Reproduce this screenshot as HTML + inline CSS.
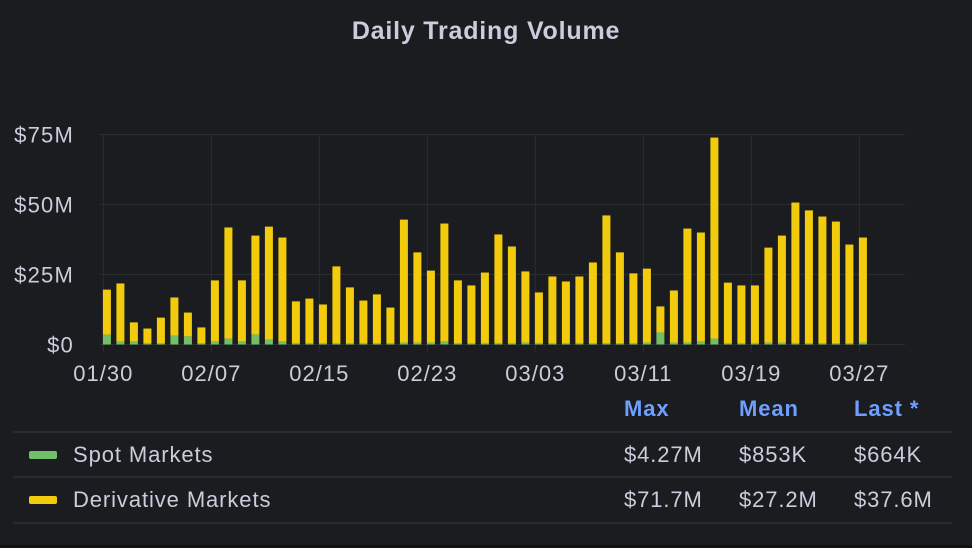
<!DOCTYPE html>
<html><head><meta charset="utf-8"><style>
body{margin:0;background:#111217;}
#panel{position:absolute;left:0;top:0;width:972px;height:545px;background:#1b1c20;font-family:"Liberation Sans",sans-serif;color:#ccccdc;}
.t{position:absolute;white-space:nowrap;font-size:22px;letter-spacing:0.9px;}
</style></head><body>
<div id="panel">
<div class="t" style="left:0;width:972px;text-align:center;top:17px;font-size:25px;letter-spacing:0.8px;font-weight:bold;">Daily Trading Volume</div>
<svg id="chart" width="972" height="400" style="position:absolute;left:0;top:0"></svg>
<div>
<div class="t" style="left:624px;top:396px;font-weight:bold;color:#6e9fff">Max</div>
<div class="t" style="left:739px;top:396px;font-weight:bold;color:#6e9fff">Mean</div>
<div class="t" style="left:854px;top:396px;font-weight:bold;color:#6e9fff">Last *</div>
<div style="position:absolute;left:13px;width:939px;top:431px;height:2px;background:#2a2b30"></div>
<div style="position:absolute;left:13px;width:939px;top:476px;height:2px;background:#2a2b30"></div>
<div style="position:absolute;left:13px;width:939px;top:522px;height:2px;background:#2a2b30"></div>
<div>
<div style="position:absolute;left:29px;top:451px;width:28px;height:8px;border-radius:2px;background:#73bf69"></div>
<div class="t" style="left:73px;top:442px;">Spot Markets</div>
<div class="t" style="left:624px;top:442px;">$4.27M</div>
<div class="t" style="left:739px;top:442px;">$853K</div>
<div class="t" style="left:854px;top:442px;">$664K</div>
</div>
<div>
<div style="position:absolute;left:29px;top:496px;width:28px;height:8px;border-radius:2px;background:#f2cc0c"></div>
<div class="t" style="left:73px;top:487px;">Derivative Markets</div>
<div class="t" style="left:624px;top:487px;">$71.7M</div>
<div class="t" style="left:739px;top:487px;">$27.2M</div>
<div class="t" style="left:854px;top:487px;">$37.6M</div>
</div>
</div>
</div>
<script>
const totals=[19.6,21.8,7.9,5.7,9.6,16.8,11.4,6.1,22.9,41.8,22.9,38.9,42.1,38.2,15.4,16.4,14.3,27.9,20.4,15.7,17.9,13.2,44.6,32.9,26.4,43.2,22.9,21.1,25.7,39.3,35.0,26.1,18.6,24.3,22.5,24.3,29.3,46.1,32.9,25.4,27.1,13.6,19.3,41.4,40.0,73.9,22.1,21.1,21.1,34.6,38.9,50.7,47.9,45.7,43.9,35.7,38.2];
const spot=[3.5,1.1,1.1,0.4,0.4,3.2,2.9,0.4,1.1,2.1,1.1,3.6,1.8,1.1,0.4,0.4,0.4,0.4,0.4,0.4,0.4,0.4,0.7,0.7,0.7,1.1,0.4,0.4,0.4,0.4,0.4,0.7,0.4,0.4,0.4,0.4,0.4,0.4,0.4,0.4,0.7,4.3,0.7,0.7,1.1,2.1,0.4,0.4,0.4,0.7,0.7,0.4,0.4,0.4,0.4,0.4,0.7];
const derivative=totals.map((t,i)=>+(t-spot[i]).toFixed(2));
const yTicks=[0,25,50,75];
const yTickLabels=["$0","$25M","$50M","$75M"];
const xTickIdx=[0,8,16,24,32,40,48,56];
const xTickLabels=["01/30","02/07","02/15","02/23","03/03","03/11","03/19","03/27"];
const NS="http://www.w3.org/2000/svg";
const svg=document.getElementById('chart');
const x0=103.3,dayW=13.5,barW=8,plotL=100,plotR=905;
const xs=i=>x0+i*dayW;
const ys=v=>344.5-v*2.8;
function mk(tag,attrs){const e=document.createElementNS(NS,tag);for(const k in attrs)e.setAttribute(k,attrs[k]);svg.appendChild(e);return e;}
yTicks.forEach((v,i)=>{
 const l=mk('line',{x1:plotL,x2:plotR,y1:ys(v),y2:ys(v),stroke:'#2c2d32','stroke-width':1});
 
 
 const t=mk('text',{x:74,y:ys(v)+8,'text-anchor':'end','font-size':22,'letter-spacing':1.2,fill:'#ccccdc','font-family':'Liberation Sans, sans-serif'});
 t.textContent=yTickLabels[i];
 
 
});
xTickIdx.forEach((d,i)=>{
 const l=mk('line',{x1:xs(d),x2:xs(d),y1:134,y2:352,stroke:'#2c2d32','stroke-width':1});
 
 
 const t=mk('text',{x:xs(d),y:381,'text-anchor':'middle','font-size':22,'letter-spacing':1,fill:'#ccccdc','font-family':'Liberation Sans, sans-serif'});
 t.textContent=xTickLabels[i];
 
 
});
totals.forEach((_,i)=>{
 const cx=xs(i)+3.6;
 const s=mk('rect',{x:cx-barW/2,y:ys(spot[i]),width:barW,height:ys(0)-ys(spot[i]),fill:'#73bf69'});
 
 
 const d=mk('rect',{x:cx-barW/2,y:ys(spot[i]+derivative[i]),width:barW,height:ys(spot[i])-ys(spot[i]+derivative[i]),fill:'#f2cc0c'});
 
 
});
</script>
</body></html>
